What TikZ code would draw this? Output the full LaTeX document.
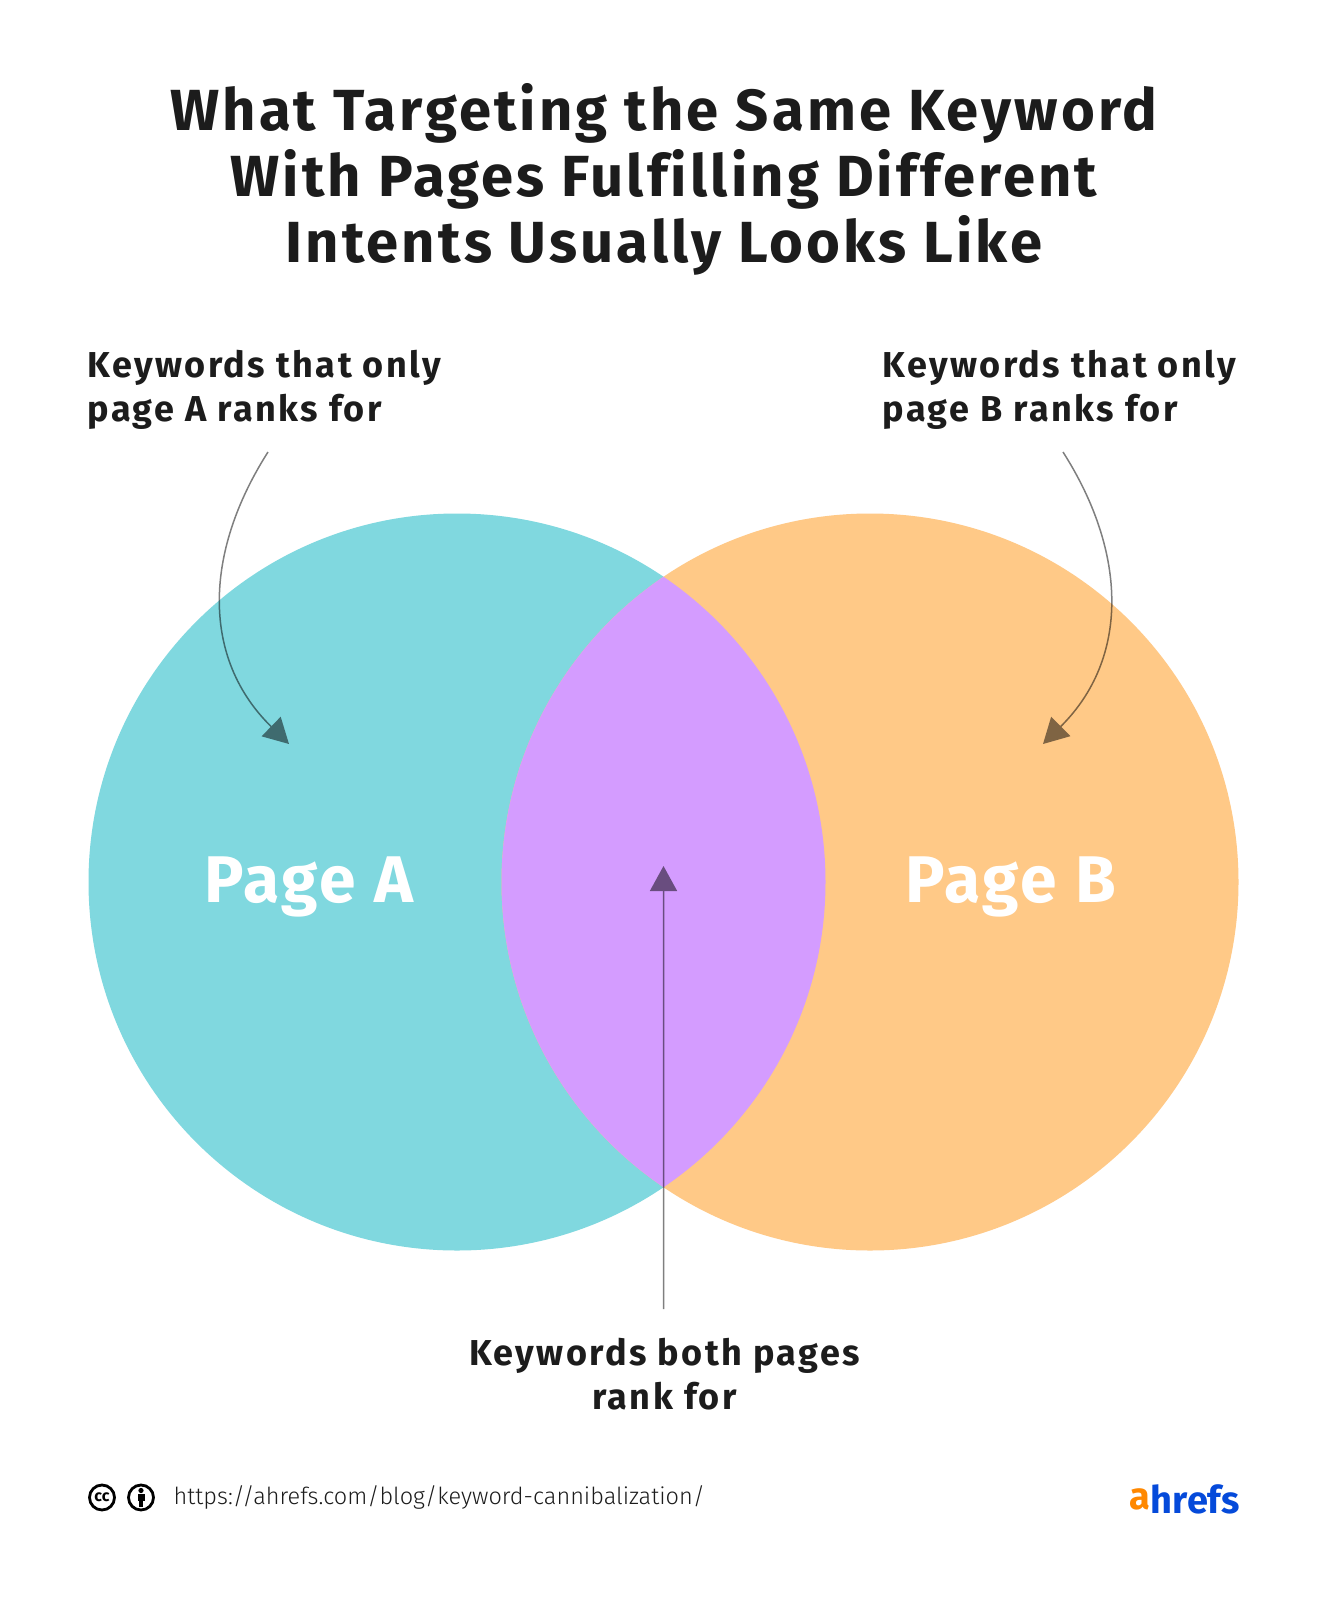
\documentclass[tikz,border=0pt]{standalone}
\usepackage{fontspec}
\setmainfont{Fira Sans}
\newfontfamily\titlefont[LetterSpace=5.4,Ligatures=NoCommon]{Fira Sans}
\newfontfamily\notefont[LetterSpace=6.8]{Fira Sans}
\newfontfamily\pagefont[LetterSpace=4.5]{Fira Sans}
\newfontfamily\linkfont{Fira Sans Light}
\usepackage{tikz}
\usetikzlibrary{arrows.meta,positioning}

\definecolor{tealA}{HTML}{80D8DF}
\definecolor{orangeB}{HTML}{FFC987}
\definecolor{purpleAB}{HTML}{D49CFF}
\definecolor{inkdark}{HTML}{1C1C1C}
\definecolor{logoOrange}{HTML}{FF8800}
\definecolor{logoBlue}{HTML}{054ADA}

\begin{document}
\begin{tikzpicture}[x=1pt, y=-1pt]
	\tikzstyle{Venn}	= [circle, minimum size=737pt, inner sep=0pt]
	\tikzstyle{Title}	= [inkdark, align=center, font=\titlefont\bfseries\fontsize{58}{66}\selectfont]
	\tikzstyle{Note}	= [inkdark, font=\notefont\bfseries\fontsize{36}{44}\selectfont]
	\tikzstyle{PageName}	= [white, font=\pagefont\bfseries\fontsize{66}{70}\selectfont]
	\tikzstyle{Pointer}	= [-{Triangle[length=25pt, width=27pt]}, line width=1.5pt, black]
	\tikzstyle{Badge}	= [circle, draw=black, line width=2.8pt, minimum size=25pt, inner sep=0pt]
	\tikzstyle{Logo}	= [inner sep=0pt, font=\bfseries\fontsize{38}{44}\selectfont]

	\useasboundingbox (0,0) rectangle (1327,1600);
	\fill [white] (0,0) rectangle (1327,1600);

	\node (title) at (664,179) [Title] {What Targeting the Same Keyword\\With Pages Fulfilling Different\\Intents Usually Looks Like};

	\node (circA) at (457,882) [Venn, fill=tealA] {};
	\node (circB) at (870,882) [Venn, fill=orangeB] {};
	\begin{scope}
		\clip (457,882) circle [radius=368.5];
		\fill [purpleAB] (870,882) circle [radius=368.5];
	\end{scope}

	\node (pageA) at (309,887) [PageName] {Page A};
	\node (pageB) at (1011,887) [PageName] {Page B};

	\node (noteA) at (84,390) [Note, anchor=west, align=left] {Keywords that only\\page A ranks for};
	\node (noteB) at (879,390) [Note, anchor=west, align=left] {Keywords that only\\page B ranks for};
	\node (noteAB) at (664.5,1374) [Note, align=center] {Keywords both pages\\rank for};

	\coordinate (fromA) at (268,452);
	\coordinate (toA) at (289,744);
	\coordinate (fromB) at (1063,452);
	\coordinate (toB) at (1043,744);
	\coordinate (fromAB) at (663.5,1309);
	\coordinate (toAB) at (663.5,866);

	\begin{scope}[transparency group, opacity=0.5]
		\draw [Pointer] (fromA) .. controls (203,554) and (202,659) .. (toA);
		\draw [Pointer] (fromB) .. controls (1128,554) and (1129,659) .. (toB);
		\draw [Pointer] (fromAB) -- (toAB);
	\end{scope}

	\node (cc) at (102,1497.5) [Badge, font=\bfseries\fontsize{16}{16}\selectfont] {cc};
	\node (by) at (141,1497.5) [Badge] {};
	\fill (141,1490.5) circle [radius=2.6];
	\fill (137.5,1494) rectangle (144.5,1501);
	\fill (139,1501) rectangle (143,1507);

	\node (link) at (173.5,1497) [anchor=west, inner sep=0pt, inkdark, font=\linkfont\fontsize{23.5}{30}\selectfont] {https://ahrefs.com/blog/keyword-cannibalization/};

	\node (logoa) at (1129,1499) [Logo, anchor=west, logoOrange] {a};
	\node (logorest) [Logo, right=0.5pt of logoa, logoBlue] {hrefs};
\end{tikzpicture}
\end{document}
